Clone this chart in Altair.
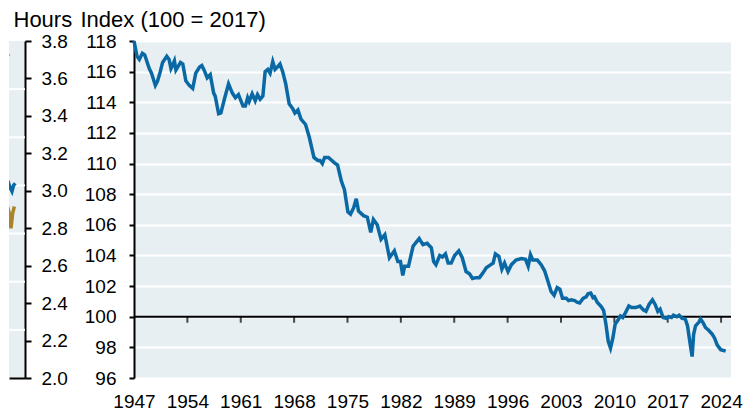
import altair as alt
import pandas as pd

# ---------------- data ----------------
years = [1947.0, 1947.4, 1947.7, 1948.1, 1948.4, 1949.0, 1949.3, 1949.8, 1950.1, 1950.45,
         1950.75, 1951.3, 1951.6, 1951.85, 1952.05, 1952.3, 1952.5, 1953.1, 1953.4, 1953.8,
         1954.25, 1954.7, 1955.1, 1955.6, 1955.9, 1956.2, 1956.6, 1957.0, 1957.45, 1957.65,
         1958.1, 1958.4, 1958.85, 1959.4, 1959.9, 1960.3, 1960.7, 1961.3, 1961.6, 1961.9,
         1962.1, 1962.5, 1962.9, 1963.2, 1963.55, 1963.9, 1964.2, 1964.55, 1964.85, 1965.2,
         1965.5, 1965.8, 1966.15, 1966.5, 1966.9, 1967.35, 1967.8, 1968.1, 1968.5, 1968.9,
         1969.5, 1970.0, 1970.6, 1971.1, 1971.4, 1971.7, 1972.0, 1972.5, 1973.3, 1973.7,
         1974.2, 1974.6, 1975.05, 1975.4, 1975.8, 1976.15, 1976.45, 1977.1, 1977.6, 1978.05,
         1978.4, 1978.9, 1979.4, 1979.9, 1980.5, 1981.15, 1981.6, 1981.95, 1982.25, 1982.5,
         1983.0, 1983.6, 1984.4, 1984.9, 1985.45, 1986.0, 1986.3, 1986.6, 1987.1, 1987.45,
         1987.85, 1988.2, 1988.6, 1989.05, 1989.6, 1990.05, 1990.55, 1991.0, 1991.4, 1991.85,
         1992.3, 1992.75, 1993.2, 1993.8, 1994.1, 1994.4, 1994.85, 1995.25, 1995.6, 1996.05,
         1996.5, 1997.1, 1997.8, 1998.35, 1998.7, 1999.0, 1999.3, 1999.9, 2000.4, 2000.85,
         2001.3, 2001.7, 2002.1, 2002.5, 2002.85, 2003.2, 2003.7, 2004.0, 2004.35, 2004.8,
         2005.1, 2005.45, 2005.9, 2006.3, 2006.55, 2006.9, 2007.2, 2007.4, 2007.75, 2008.3,
         2008.6, 2008.9, 2009.2, 2009.5, 2009.8, 2010.1, 2010.5, 2010.8, 2011.1, 2011.45,
         2011.9, 2012.25, 2012.8, 2013.35, 2013.8, 2014.15, 2014.55, 2015.0, 2015.35, 2015.7,
         2016.0, 2016.4, 2016.85, 2017.15, 2017.5, 2017.75, 2018.2, 2018.5, 2018.85, 2019.3,
         2019.6, 2019.95, 2020.2, 2020.4, 2020.65, 2021.1, 2021.3, 2021.65, 2021.95, 2022.4,
         2022.85, 2023.15, 2023.5, 2023.95, 2024.6]
index_vals = [118.0, 117.0, 116.8, 117.2, 117.1, 116.2, 115.9, 115.1, 115.4, 116.0,
              116.6, 117.0, 116.8, 116.2, 116.4, 116.7, 116.1, 116.6, 116.5, 115.4,
              115.1, 114.9, 115.9, 116.3, 116.4, 116.1, 115.6, 115.8, 114.6, 114.4,
              113.25, 113.3, 114.2, 115.2, 114.6, 114.3, 114.5, 113.75, 113.75, 114.3,
              114.05, 114.55, 114.1, 114.5, 114.2, 114.4, 116.0, 116.15, 115.9, 116.65,
              116.15, 116.3, 116.5, 116.0, 115.2, 113.9, 113.6, 113.3, 113.5, 112.9,
              112.55, 111.7, 110.4, 110.2, 110.2, 110.0, 110.4, 110.4, 110.05, 109.9,
              108.85, 108.3, 106.85, 106.7, 107.1, 107.7, 106.9, 106.6, 106.5, 105.5,
              106.35, 106.0, 105.05, 105.35, 103.85, 104.3, 103.6, 103.6, 102.7, 103.3,
              103.3, 104.6, 105.1, 104.7, 104.8, 104.5, 103.6, 103.4, 104.0, 103.9,
              104.1, 103.5, 103.5, 104.0, 104.3, 103.85, 102.95, 102.8, 102.5, 102.55,
              102.55, 102.85, 103.2, 103.4, 103.5, 104.1, 103.95, 103.1, 103.5, 102.95,
              103.4, 103.7, 103.8, 103.75, 103.3, 104.05, 103.7, 103.7, 103.4, 103.0,
              102.3, 101.65, 101.4, 101.9, 101.8, 101.2, 101.2, 101.05, 101.1, 101.05,
              100.95, 100.9, 101.2, 101.3, 101.5, 101.55, 101.25, 101.3, 100.95, 100.65,
              100.4, 99.5, 98.4, 97.95, 98.6, 99.5, 99.8, 100.05, 99.95, 100.25,
              100.7, 100.6, 100.6, 100.7, 100.45, 100.35, 100.8, 101.1, 100.8, 100.35,
              100.5, 99.95, 99.9, 100.0, 99.95, 100.1, 100.0, 100.1, 99.9, 99.85,
              99.4, 98.2, 97.4, 98.85, 99.4, 99.65, 99.85, 99.6, 99.3, 99.1,
              98.85, 98.6, 98.15, 97.85, 97.75]

x_tick_years = [1947, 1954, 1961, 1968, 1975, 1982, 1989, 1996, 2003, 2010, 2017, 2024]
index_ticks = [96, 98, 100, 102, 104, 106, 108, 110, 112, 114, 116, 118]
hours_ticks = [2.0, 2.2, 2.4, 2.6, 2.8, 3.0, 3.2, 3.4, 3.6, 3.8]

# left (cropped) panel: tails of two hours series
blue_years = [2021.70, 2021.95, 2022.2, 2022.45, 2022.75, 2023.1, 2023.35, 2023.6, 2023.85]
blue_hours = [3.14, 3.087, 3.114, 3.07, 3.05, 3.015, 2.997, 3.03, 3.04]
gold_years = [2021.7, 2022.1, 2022.35, 2022.6, 2022.95, 2023.2, 2023.45, 2023.7]
gold_hours = [3.0, 2.94, 3.0, 2.925, 2.88, 2.8, 2.88, 2.916]
marker_year = [2022.45]
marker_hours = [3.725]
left_grid_steps = [1, 2, 3, 4, 5, 6]

BLUE = "#0a69a5"
GOLD = "#a8852b"
BG = "#e7eff3"
FONT = "Liberation Sans"

# ---------------- left panel ----------------
left_df = pd.DataFrame({
    "year": blue_years + gold_years + marker_year,
    "hours": blue_hours + gold_hours + marker_hours,
    "series": ["blue"] * len(blue_years) + ["gold"] * len(gold_years) + ["marker"] * len(marker_year),
})

x_left = alt.X("year:Q", scale=alt.Scale(domain=[2022.9, 2025.3], nice=False, zero=False),
               axis=alt.Axis(title=None, labels=False, ticks=False, grid=False,
                             domain=True, domainColor="black", domainWidth=2))
y_left = alt.Y("hours:Q", scale=alt.Scale(domain=[2.0, 3.8], nice=False, zero=False),
               axis=alt.Axis(orient="right", values=hours_ticks, format=".1f", grid=False,
                             tickSize=6, tickWidth=2, domainWidth=2, labelPadding=10,
                             labelOverlap=False,
                             title="Hours", titleAngle=0, titleAlign="left",
                             titleBaseline="alphabetic", titleX=-12, titleY=-15))
color_left = alt.Color("series:N", scale=alt.Scale(domain=["blue", "gold", "marker"],
                                                   range=[BLUE, GOLD, GOLD]), legend=None)

left_base = alt.Chart(left_df).encode(x=x_left, y=y_left, color=color_left)
left_lines = left_base.transform_filter(alt.datum.series != "marker").mark_line(
    strokeWidth=3.5, clip=True)
left_marker = left_base.transform_filter(alt.datum.series == "marker").mark_point(
    shape="triangle-right", size=110, filled=True, opacity=1, clip=True)

left_grid = alt.Chart(pd.DataFrame({"g": left_grid_steps})).mark_rule(
    color="white", strokeWidth=2).encode(
    y=alt.Y("g:Q", scale=alt.Scale(domain=[0, 7], nice=False, zero=False), axis=None))

left = alt.layer(left_grid, alt.layer(left_lines, left_marker)).resolve_scale(
    y="independent").properties(width=16, height=337)

# ---------------- main panel ----------------
main_df = pd.DataFrame({"year": years, "index": index_vals})
tick_df = pd.DataFrame({"year": x_tick_years[1:], "index": [100] * (len(x_tick_years) - 1)})
zero_df = pd.DataFrame({"index": [100]})

x_main = alt.X("year:Q", scale=alt.Scale(domain=[1947, 2025.3], nice=False, zero=False),
               axis=alt.Axis(values=x_tick_years, format="d", title=None, ticks=False,
                             tickSize=0, domain=False, grid=False, labelPadding=14,
                             labelOverlap=False, labelFlush=False))
y_main = alt.Y("index:Q", scale=alt.Scale(domain=[96, 118], nice=False, zero=False),
               axis=alt.Axis(values=index_ticks, format="d", grid=True, gridColor="white",
                             gridWidth=2, gridOpacity=1, tickSize=5, tickWidth=2,
                             domainWidth=2, labelPadding=13, labelOverlap=False,
                             title="Index (100 = 2017)", titleAngle=0, titleAlign="left",
                             titleBaseline="alphabetic", titleX=-54, titleY=-15))

zero_rule = alt.Chart(zero_df).mark_rule(color="black", strokeWidth=2).encode(y=y_main)
x_ticks_marks = alt.Chart(tick_df).mark_tick(
    orient="vertical", size=6, thickness=2, color="black", yOffset=3).encode(x=x_main, y=y_main)
main_line = alt.Chart(main_df).mark_line(color=BLUE, strokeWidth=3.5).encode(x=x_main, y=y_main)

main = alt.layer(zero_rule, x_ticks_marks, main_line).properties(width=597, height=337)

chart = alt.hconcat(left, main, spacing=109, bounds="flush", padding=0).configure_view(
    fill=BG, strokeWidth=0
).configure_axis(
    labelFont=FONT, titleFont=FONT, labelFontSize=19, titleFontSize=22,
    titleFontWeight="normal", labelColor="black", titleColor="black",
    domainColor="black", tickColor="black"
)

chart.save("out.html", embed_options={"renderer": "svg", "actions": False})
